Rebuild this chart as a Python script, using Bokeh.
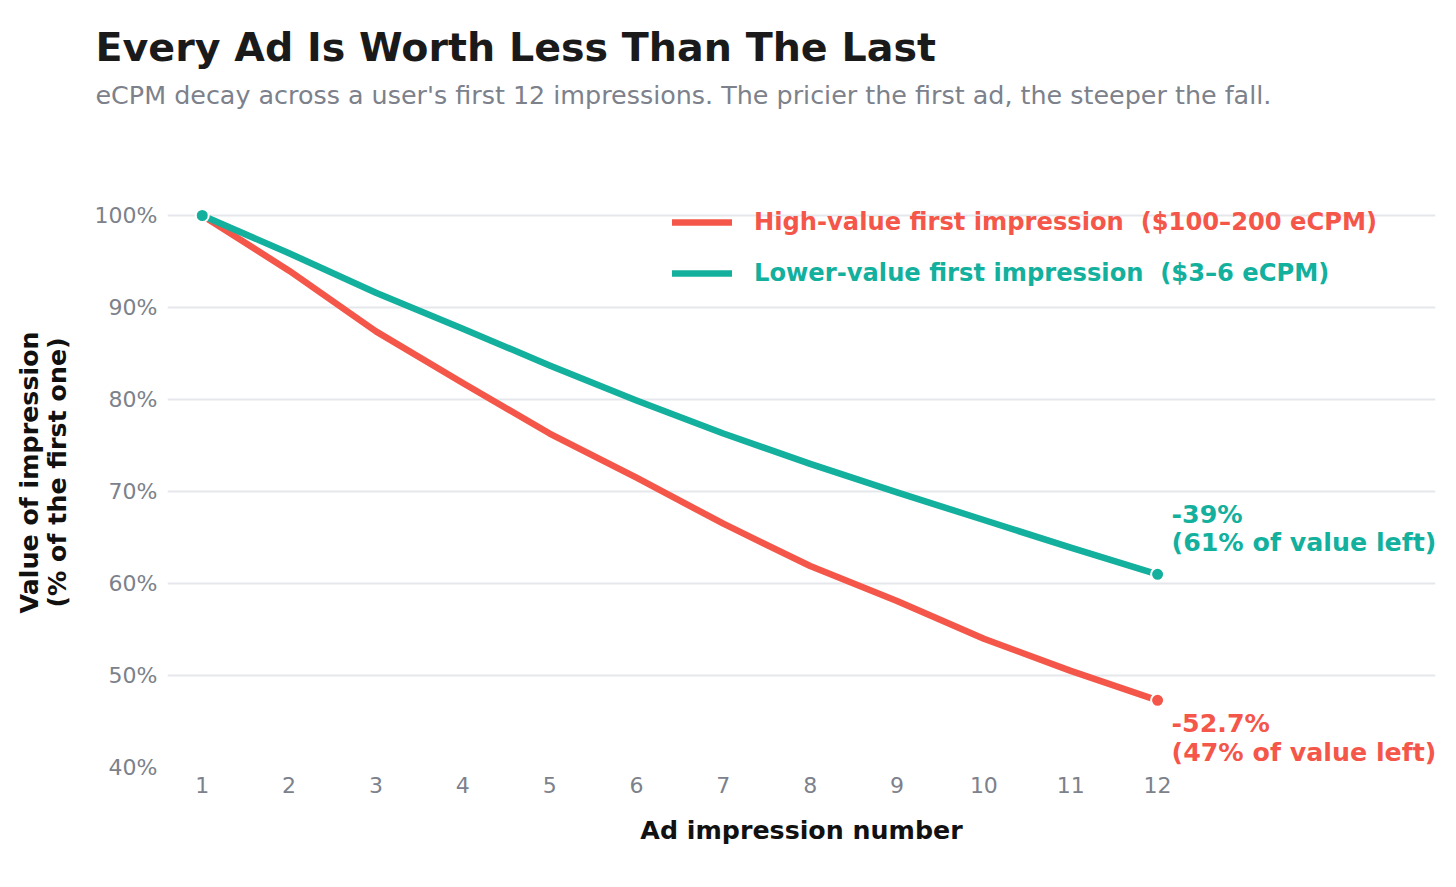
from bokeh.plotting import figure
from bokeh.models import (ColumnDataSource, FixedTicker, Range1d, Title, Legend, LegendItem)
from bokeh.core.properties import value
from bokeh.embed import file_html
from bokeh.resources import INLINE

# ---- data ----
impressions = [1, 2, 3, 4, 5, 6, 7, 8, 9, 10, 11, 12]
high_value = [100.0, 94.0, 87.4, 81.8, 76.3, 71.5, 66.5, 61.9, 58.1, 54.0, 50.5, 47.3]
low_value = [100.0, 95.9, 91.6, 87.7, 83.7, 79.9, 76.3, 73.0, 69.9, 66.9, 63.9, 61.0]
y_ticks = [40, 50, 60, 70, 80, 90, 100]
y_tick_labels = ["40%", "50%", "60%", "70%", "80%", "90%", "100%"]
series_names = ["High-value first impression  ($100\u2013200 eCPM)",
                "Lower-value first impression  ($3\u20136 eCPM)"]
end_notes = ["-52.7%\n(47% of value left)", "-39%\n(61% of value left)"]

RED = "#f4574a"
TEAL = "#13b09e"
GRAY = "#7c818b"
FONT = "DejaVu Sans"

p = figure(width=1440, height=871, output_backend="svg", toolbar_location=None,
           x_range=Range1d(0.6, 15.2), y_range=Range1d(40, 104.13),
           min_border_left=167, min_border_right=5, min_border_top=177,
           min_border_bottom=104)
p.outline_line_color = None
p.background_fill_color = "white"
p.border_fill_color = "white"

# titles (a blank spacer panel keeps the subtitle clear of the plot area)
spacer = Title(text=" ", text_font=FONT, text_font_size="25.4px", standoff=36)
p.add_layout(spacer, "above")
sub = Title(text="eCPM decay across a user's first 12 impressions. The pricier the first ad, the steeper the fall.",
            text_font=FONT, text_font_size="25.4px", text_font_style="normal",
            text_color=GRAY, align="left", offset=-72, standoff=0)
p.add_layout(sub, "above")
ttl = Title(text="Every Ad Is Worth Less Than The Last", text_font=FONT,
            text_font_size="39.6px", text_font_style="bold", text_color="#1a1a1a",
            align="left", offset=-72, standoff=16)
p.add_layout(ttl, "above")

# axes
p.xaxis.ticker = FixedTicker(ticks=impressions)
p.yaxis.ticker = FixedTicker(ticks=y_ticks)
p.yaxis.major_label_overrides = {t: l for t, l in zip(y_ticks, y_tick_labels)}
for ax in (p.xaxis[0], p.yaxis[0]):
    ax.axis_line_color = None
    ax.major_tick_line_color = None
    ax.minor_tick_line_color = None
    ax.major_label_text_font = FONT
    ax.major_label_text_font_size = "22px"
    ax.major_label_text_color = GRAY
    ax.axis_label_text_font = FONT
    ax.axis_label_text_font_size = "25.3px"
    ax.axis_label_text_font_style = "bold"
    ax.axis_label_text_color = "#111111"
p.xaxis.axis_label = "Ad impression number"
p.yaxis.axis_label = "Value of impression\n(% of the first one)"
p.yaxis.axis_label_text_line_height = 0.96
p.xaxis.major_label_standoff = 3
p.yaxis.major_label_standoff = 4
p.xaxis.axis_label_standoff = 20
p.yaxis.axis_label_standoff = 20

p.xgrid.grid_line_color = None
p.ygrid.grid_line_color = "#e6e7ec"
p.ygrid.grid_line_width = 2

src = ColumnDataSource(dict(x=impressions, high=high_value, low=low_value))
r_high = p.line("x", "high", source=src, line_color=RED, line_width=6.5,
                line_join="round", line_cap="round")
r_low = p.line("x", "low", source=src, line_color=TEAL, line_width=6.5,
               line_join="round", line_cap="round")

# end / start markers
first_i, last_i = 0, len(impressions) - 1
p.scatter([impressions[last_i]], [high_value[last_i]], size=13, fill_color=RED,
          line_color="white", line_width=2)
p.scatter([impressions[first_i], impressions[last_i]], [low_value[first_i], low_value[last_i]],
          size=13, fill_color=TEAL, line_color="white", line_width=2)

# end annotations
p.text([impressions[last_i]], [high_value[last_i]], text=[end_notes[0]], text_color=RED,
       text_font=value(FONT), text_font_size="25.3px", text_font_style="bold",
       text_baseline="top", text_align="left", x_offset=14, y_offset=9,
       text_line_height=0.98)
p.text([impressions[last_i]], [low_value[last_i]], text=[end_notes[1]], text_color=TEAL,
       text_font=value(FONT), text_font_size="25.3px", text_font_style="bold",
       text_baseline="bottom", text_align="left", x_offset=14, y_offset=-17,
       text_line_height=0.98)

# legends (one per item so each label can carry its own colour)
for i, (rend, col) in enumerate(((r_high, RED), (r_low, TEAL))):
    lg = Legend(items=[LegendItem(label=series_names[i], renderers=[rend])],
                location=(505, 530 - 51 * i), orientation="vertical",
                glyph_width=60, glyph_height=30, label_height=30, label_standoff=22,
                padding=0, margin=0, spacing=0,
                label_text_font=FONT, label_text_font_size="24.2px",
                label_text_font_style="bold", label_text_color=col,
                background_fill_alpha=0, border_line_color=None)
    p.add_layout(lg)

open("out.html", "w").write(file_html(p, INLINE))
